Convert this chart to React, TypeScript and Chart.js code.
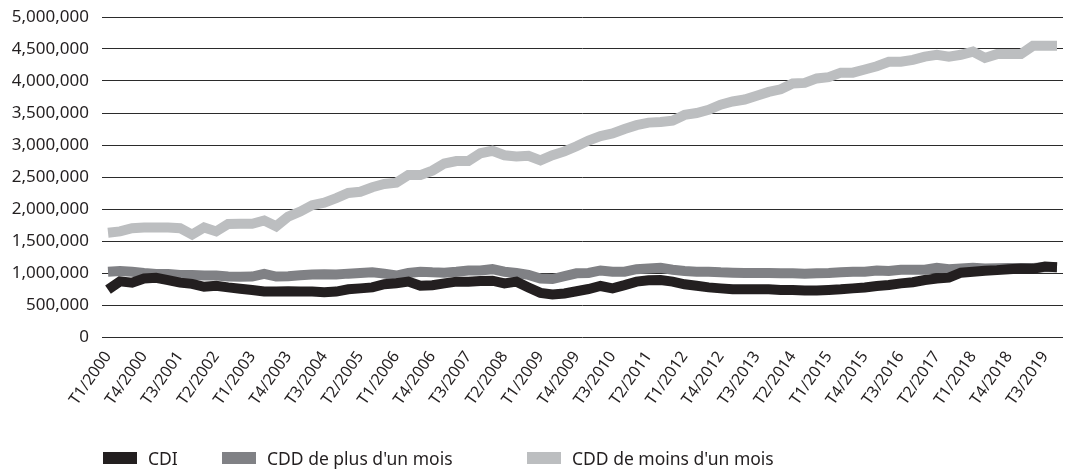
import React, { useEffect, useRef } from 'react';
import { Chart, registerables } from 'chart.js';

Chart.register(...registerables);

const years = [2000, 2001, 2002, 2003, 2004, 2005, 2006, 2007, 2008, 2009, 2010, 2011, 2012, 2013, 2014, 2015, 2016, 2017, 2018, 2019];
const quarterNames = ['T1', 'T2', 'T3', 'T4'];
const categories: string[] = [];
years.forEach((y) => quarterNames.forEach((q) => categories.push(`${q}/${y}`)));

const seriesNames = ['CDI', "CDD de plus d'un mois", "CDD de moins d'un mois"];

const cdi = [
  740000, 870000, 850000, 915000, 925000, 890000, 850000, 830000, 785000, 800000,
  775000, 755000, 735000, 710000, 710000, 715000, 710000, 710000, 700000, 710000,
  745000, 760000, 775000, 825000, 840000, 865000, 800000, 810000, 838000, 865000,
  865000, 875000, 880000, 838000, 865000, 775000, 690000, 665000, 680000, 715000,
  750000, 797000, 760000, 810000, 865000, 885000, 890000, 865000, 823000, 800000,
  775000, 760000, 745000, 745000, 745000, 745000, 735000, 735000, 725000, 725000,
  735000, 745000, 760000, 775000, 797000, 812000, 838000, 855000, 890000, 915000,
  927000, 1005000, 1020000, 1035000, 1045000, 1060000, 1070000, 1065000, 1100000, 1090000,
];

const cddPlus = [
  1020000, 1030000, 1020000, 1000000, 985000, 985000, 970000, 970000, 960000, 960000,
  945000, 940000, 945000, 985000, 945000, 950000, 965000, 975000, 980000, 975000,
  990000, 1000000, 1010000, 990000, 960000, 1000000, 1020000, 1010000, 1005000, 1020000,
  1040000, 1040000, 1060000, 1020000, 1000000, 970000, 915000, 905000, 950000, 995000,
  1000000, 1040000, 1020000, 1020000, 1060000, 1070000, 1080000, 1050000, 1030000, 1020000,
  1020000, 1010000, 1005000, 1000000, 1000000, 1000000, 995000, 995000, 990000, 995000,
  1000000, 1010000, 1020000, 1020000, 1040000, 1030000, 1050000, 1050000, 1050000, 1080000,
  1060000, 1070000, 1080000, 1070000, 1075000, 1080000, 1078000, 1080000, 1090000, 1090000,
];

const cddMoins = [
  1630000, 1650000, 1700000, 1710000, 1710000, 1710000, 1700000, 1600000, 1710000, 1650000,
  1765000, 1770000, 1770000, 1820000, 1730000, 1880000, 1960000, 2060000, 2100000, 2170000,
  2250000, 2270000, 2340000, 2390000, 2410000, 2530000, 2530000, 2600000, 2710000, 2750000,
  2750000, 2870000, 2910000, 2840000, 2820000, 2830000, 2760000, 2840000, 2900000, 2980000,
  3070000, 3140000, 3180000, 3250000, 3310000, 3350000, 3360000, 3380000, 3470000, 3500000,
  3550000, 3630000, 3680000, 3710000, 3770000, 3830000, 3870000, 3960000, 3970000, 4040000,
  4060000, 4130000, 4130000, 4180000, 4230000, 4300000, 4300000, 4330000, 4380000, 4410000,
  4380000, 4410000, 4460000, 4360000, 4420000, 4420000, 4420000, 4550000, 4550000, 4550000,
];

const colors = ['#231f20', '#808185', '#bcbec0'];
const legendLefts = [103, 222, 527];
const textColor = '#231f20';
const FONT = "'Noto Sans', sans-serif";

export default function App() {
  const ref = useRef<HTMLCanvasElement>(null);

  useEffect(() => {
    const seriesData = [cdi, cddPlus, cddMoins];
    const chart = new Chart(ref.current!, {
      type: 'line',
      data: {
        labels: categories,
        datasets: seriesData.map((d, i) => ({
          label: seriesNames[i],
          data: d,
          borderColor: colors[i],
          backgroundColor: colors[i],
          borderWidth: 10,
          pointRadius: 0,
          tension: 0,
          fill: false,
          borderJoinStyle: 'miter' as const,
          borderCapStyle: 'butt' as const,
        })),
      },
      options: {
        responsive: false,
        animation: false,
        devicePixelRatio: 1,
        layout: { padding: { top: 17, right: 4, left: 0, bottom: 0 } },
        plugins: { legend: { display: false }, tooltip: { enabled: false } },
        scales: {
          x: {
            offset: true,
            grid: { display: false, drawTicks: false },
            border: { display: false },
            ticks: {
              autoSkip: false,
              maxRotation: 55,
              minRotation: 55,
              padding: 11,
              color: textColor,
              font: { family: FONT, size: 16 },
              callback: (_v: any, i: number) => (i % 3 === 0 ? categories[i] : ''),
            },
            afterCalculateLabelRotation: (s: any) => {
              s.labelRotation = 55;
            },
            afterFit: (s: any) => {
              s.height = 133;
              s.paddingLeft = 0;
              s.paddingRight = 0;
            },
          },
          y: {
            min: 0,
            max: 5000000,
            ticks: {
              stepSize: 500000,
              padding: 13,
              color: textColor,
              font: { family: FONT, size: 17 },
              callback: (v: any) => Number(v).toLocaleString('en-US'),
            },
            grid: { color: '#2b2b2b', lineWidth: 1, drawTicks: false },
            border: { display: false },
            afterFit: (s: any) => {
              s.width = 102;
              s.paddingTop = 0;
              s.paddingBottom = 0;
            },
          },
        },
      },
    });
    return () => chart.destroy();
  }, []);

  return (
    <div style={{ position: 'absolute', left: 0, top: 0, width: 1067, height: 470, background: '#fff' }}>
      <canvas ref={ref} width={1067} height={470} style={{ display: 'block' }} />
      {seriesNames.map((n, i) => (
        <div
          key={n}
          style={{
            position: 'absolute',
            left: legendLefts[i],
            top: 446,
            height: 24,
            display: 'flex',
            alignItems: 'center',
            fontFamily: FONT,
            fontSize: 17.5,
            color: textColor,
            whiteSpace: 'nowrap',
          }}
        >
          <span style={{ display: 'inline-block', width: 34, height: 12, background: colors[i], marginRight: 11 }} />
          <span>{n}</span>
        </div>
      ))}
    </div>
  );
}
